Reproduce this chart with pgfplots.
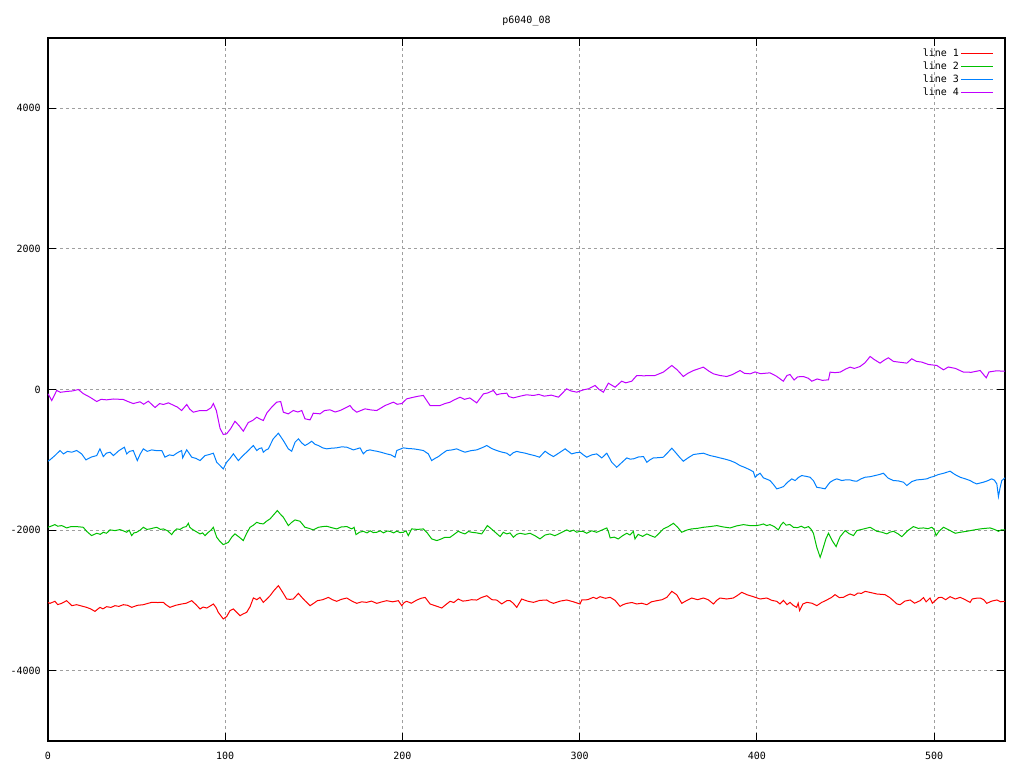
\documentclass[border=0pt]{standalone}
\usepackage{pgfplots}
\pgfplotsset{compat=1.18}
\usepackage{fontspec}
\setmainfont{DejaVu Sans Mono}
\definecolor{gpred}{RGB}{255,0,0}
\definecolor{gpgreen}{RGB}{0,192,0}
\definecolor{gpblue}{RGB}{0,128,255}
\definecolor{gpmag}{RGB}{192,0,255}

\begin{document}
\begin{tikzpicture}
\fontsize{5}{6}\selectfont
\begin{axis}[
    scale only axis,
    width=478.5pt, height=351.5pt,
    xmin=0, xmax=540, ymin=-5000, ymax=5000,
    xtick={0,100,...,500},
    ytick={-4000,-2000,...,4000},
    /pgf/number format/assume math mode=true,
    /pgf/number format/set thousands separator={},
    tick label style={font=\fontsize{5}{6}\selectfont},
    xticklabel style={yshift=-3.6pt},
    yticklabel style={xshift=-1.8pt},
    tick align=inside,
    major tick length=4pt,
    tick style={black, line width=0.5pt},
    axis line style={black, line width=0.55pt},
    grid=major,
    major grid style={gray!75, dash pattern=on 1.5pt off 1.5pt, line width=0.5pt},
    title={p6040\_08},
    title style={at={(0.5,1)}, anchor=base, yshift=1.3pt, font=\fontsize{5}{6}\selectfont},
    legend plot pos=right,
    legend cell align=right,
    legend image code/.code={\draw[#1, line width=0.5pt] (1.5pt,0pt) -- (17.5pt,0pt);},
    legend style={draw=none, fill=none, at={(1,1)}, anchor=north east,
        xshift=-5.5pt, yshift=-4.2pt, inner sep=0pt, row sep=0.2pt,
        font=\fontsize{5}{6}\selectfont,
        nodes={inner sep=0.8pt, text height=4.2pt, text depth=0.5pt}},
    every axis plot/.append style={no marks, line width=0.5pt},
]
% line 1
\addplot[gpred] table {
0 -3030
1.1 -3042
3.9 -3013
5.5 -3060
7.7 -3042
10.5 -3004
12 -3040
13.4 -3075
16.2 -3061
19 -3080
21.8 -3099
24 -3120
26.5 -3156
29.3 -3099
31 -3120
33.1 -3089
35.5 -3100
37.8 -3075
40 -3085
42.5 -3061
45 -3070
47.2 -3099
50.5 -3070
53.8 -3061
56 -3045
58.5 -3028
62 -3030
65.1 -3028
66.5 -3060
68.8 -3099
72 -3070
75.4 -3051
78 -3040
81.1 -3004
83.5 -3060
85.8 -3122
87.5 -3095
89.6 -3108
91.5 -3080
93.3 -3051
94.8 -3100
96.1 -3170
98.9 -3264
100.8 -3230
102.7 -3146
104.6 -3122
106.5 -3170
108.4 -3217
110.3 -3190
112.1 -3170
114 -3090
115.9 -2965
117.8 -2990
119.6 -2957
121.5 -3028
123.5 -2980
125.3 -2933
127.5 -2860
130 -2790
132.3 -2880
134.7 -2980
136.5 -2985
138.4 -2980
141.3 -2900
143 -2950
145 -3004
147.9 -3075
150 -3040
152 -3004
155 -2990
158.2 -2957
160.5 -2990
162.9 -3013
165.5 -2985
168.6 -2966
171.5 -3010
174.2 -3042
177 -3020
179.8 -3028
182.5 -3010
185.5 -3042
188.5 -3020
191.1 -3004
194.5 -3020
197.7 -3004
199.6 -3075
201 -3030
202.4 -3013
205 -3040
208.1 -2995
210.5 -2970
212.8 -2957
215.6 -3051
219 -3080
222.2 -3108
224.5 -3060
226.9 -3013
229 -3030
231.5 -2980
234 -3010
236.3 -3004
239 -2990
241.9 -2995
244.5 -2960
247.6 -2933
250.5 -2990
253.2 -2995
256 -3050
258.9 -3004
260.7 -3004
262.5 -3040
264.5 -3099
267.3 -2980
270.5 -3010
273.9 -3028
277.5 -3000
281.4 -2994
283 -3020
285.2 -3042
289 -3010
292.7 -2994
296.5 -3020
300.2 -3051
301.2 -2994
304.5 -2990
307.7 -2956
309.5 -2975
311.5 -2947
314.5 -2970
317.2 -2956
320 -3000
322.8 -3085
324.5 -3060
326.6 -3042
329.5 -3030
332.2 -3051
335 -3040
337.9 -3061
340.5 -3020
343.5 -3004
346.5 -2990
349.2 -2956
352 -2871
354.8 -2920
357.6 -3042
360.5 -3000
363.2 -2966
366.5 -2990
369.8 -2966
372.5 -2990
375.5 -3051
377.3 -3000
379.2 -2966
383 -2980
386.7 -2966
389 -2930
391.5 -2885
394.5 -2920
398 -2947
401.8 -2980
405.6 -2966
408.5 -3000
411.2 -3013
413 -3050
415 -3000
417 -3060
418.7 -3028
420.5 -3070
422.4 -3099
423.3 -3040
424.1 -3146
426 -3050
428.2 -3028
431 -3040
433.8 -3075
436.5 -3030
439.4 -2994
442 -2960
444.1 -2918
446.5 -2960
448.8 -2956
450.7 -2930
452.6 -2909
455 -2930
457 -2895
459 -2900
461.1 -2871
464.5 -2890
467.7 -2909
472.3 -2918
475 -2960
477 -3004
479 -3050
480.8 -3061
483.5 -3010
486.5 -2994
489 -3040
492.1 -3004
494 -2960
495.5 -3020
497.7 -2966
499 -3040
500.6 -3004
502.5 -2960
504.3 -2956
506.5 -2990
509 -2947
512 -2980
514.7 -2956
517.5 -2990
520.3 -3028
521.5 -2980
523.5 -2970
526 -2966
528 -2990
529.7 -3042
532.5 -3010
535.4 -2994
537.5 -3020
540 -3013
};
\addlegendentry{line 1}
% line 2
\addplot[gpgreen] table {
0 -1960
1.1 -1950
3.9 -1922
5.5 -1945
7.7 -1936
9 -1950
10.5 -1969
13 -1950
16.2 -1950
19.9 -1960
21.8 -2017
24.6 -2078
27.5 -2045
29.5 -2060
31.2 -2031
33 -2045
35 -1997
37.8 -2007
40.6 -1993
42.5 -2010
44.4 -2031
45.8 -2000
47.2 -2078
48.5 -2040
50 -2031
52 -2000
53.8 -1960
55.8 -1990
57.6 -1983
59.5 -1970
61.3 -1960
63.5 -1990
65.1 -1983
67.5 -2010
69.8 -2064
71 -2020
72.6 -1983
74.5 -1990
76.4 -1960
78 -1950
79.2 -1903
80 -1960
81.1 -1983
83.5 -2020
85.8 -2054
87.2 -2040
88.6 -2078
90.5 -2031
92 -2000
93.3 -1960
95.2 -2102
97 -2160
98.9 -2206
100.5 -2190
101.8 -2173
103.7 -2100
105.5 -2054
107.9 -2100
110.2 -2149
112 -2050
114 -1960
115.9 -1930
117.8 -1889
119.5 -1905
121.5 -1912
123.5 -1870
125.3 -1841
127.4 -1780
129.4 -1722
131 -1770
132.8 -1817
134.3 -1880
135.6 -1936
137.5 -1890
139.4 -1855
142.2 -1874
145 -1960
147.3 -1975
149.7 -1997
152.6 -1960
155 -1950
157.3 -1945
160 -1965
162.9 -1983
165.5 -1955
168.6 -1950
171.4 -1983
172.7 -1960
173.8 -2064
175.8 -2030
177.9 -2017
180 -2040
181.8 -2010
183.5 -2035
185.5 -2031
187.5 -2010
189.3 -2040
191.2 -2015
193 -2017
195 -2040
196.8 -2015
198.6 -2035
200.5 -2031
202 -2010
203.3 -2078
205.2 -1983
208.5 -1990
211.8 -1983
214 -2040
216.5 -2125
219.4 -2149
221.5 -2130
224 -2102
226.9 -2102
229.2 -2060
231.5 -2017
233.5 -2040
235.3 -2054
237.2 -2020
239.1 -2031
242 -2040
244.7 -2054
246.5 -1990
247.9 -1936
249.6 -1970
251.3 -2007
253.2 -2050
255.1 -2092
256.9 -2031
258.9 -2054
260.7 -2040
262.6 -2102
264.5 -2060
266.4 -2045
269.2 -2060
272 -2045
274.8 -2080
277.6 -2125
280.5 -2070
283.3 -2054
286 -2080
288.9 -2045
290.8 -2020
292.7 -1997
294.5 -2020
296.5 -2000
298.3 -2030
300.2 -2017
302 -2020
304 -2045
306.8 -2010
309.6 -2031
312.5 -2000
315.3 -1969
316.3 -2030
317.2 -2111
319.5 -2100
321.8 -2126
324.2 -2080
326.6 -2045
328.4 -2070
330.3 -2017
331.2 -2126
333 -2060
335.5 -2090
337.9 -2054
340.2 -2080
342.5 -2102
345 -2040
347.2 -1983
350 -1950
352.9 -1903
355.3 -1960
357.6 -2031
360.4 -2000
363.2 -1983
366.5 -1975
369.8 -1960
373.5 -1950
377.4 -1936
381 -1955
384.9 -1969
388.6 -1940
392.4 -1922
396.2 -1936
399.9 -1936
402 -1925
403.7 -1912
405.5 -1935
407.4 -1922
409.8 -1950
412.1 -1997
413.5 -1930
414.9 -1889
416.5 -1930
418.6 -1920
420.6 -1960
423 -1965
425 -1945
427 -1970
429.1 -1950
430.5 -1985
431.9 -2045
433.8 -2245
435.7 -2387
436.6 -2320
437.5 -2245
439 -2120
440.4 -2045
442.5 -2150
444.7 -2235
446 -2150
447 -2093
449.8 -2007
452 -2050
454.5 -2078
456.4 -2007
460 -1985
463.9 -1960
467.7 -2017
470.5 -2030
473.3 -2054
475 -2030
477 -2017
479.5 -2050
481.8 -2093
485 -2010
488.3 -1950
491 -1975
494 -1969
496.5 -1980
498.7 -1960
500 -1990
501.1 -2078
503 -2010
505.3 -1960
508.5 -2000
511.9 -2045
515 -2030
518.4 -2017
522 -2000
526 -1983
529 -1975
531.6 -1969
534 -1990
536.3 -2017
538 -1995
540 -1997
};
\addlegendentry{line 2}
% line 3
\addplot[gpblue] table {
0 -1020
1.1 -1001
3.9 -940
6.8 -868
8.7 -916
11 -880
13.4 -892
16.2 -868
19 -916
21.4 -1001
24.5 -960
27.5 -940
29.3 -844
31.2 -954
33 -905
35 -892
36.9 -940
40 -870
43.1 -821
44.4 -916
46 -880
48.1 -868
50.4 -1011
52 -920
53.8 -844
56 -880
58.5 -859
61.3 -870
64.2 -868
66 -963
68.5 -930
70.7 -940
73 -900
75.4 -868
76 -973
78.3 -858
81.1 -963
83.5 -980
85.8 -1011
88.6 -940
91 -925
93.3 -906
95.2 -1035
97 -1080
98.9 -1129
100.8 -1035
102.7 -980
104.6 -915
107.4 -1011
110 -940
112.1 -892
114.5 -830
115.9 -797
117.8 -868
119.2 -840
120.6 -830
121.5 -892
123 -860
124.3 -844
127.1 -702
130 -622
132.8 -726
135.6 -844
137.5 -878
139.4 -750
141.3 -702
143.2 -760
145 -797
146.9 -770
148.8 -736
150.7 -780
152.6 -797
155 -830
157.3 -844
160 -835
162.9 -830
165.8 -815
168.6 -821
170.5 -840
172.3 -859
174.2 -845
176.1 -830
177.9 -915
179.8 -870
181.7 -859
183.6 -870
185.5 -878
188.3 -895
191.1 -916
193.5 -930
195.8 -963
196.8 -868
198.6 -850
200.5 -830
203.4 -840
206.2 -844
209 -855
211.8 -868
214.6 -916
216.5 -1011
218.4 -980
220.3 -954
222.6 -910
225 -868
227.8 -860
230.6 -844
233 -870
235.3 -892
238.6 -870
241.9 -859
244.8 -830
247.6 -797
250.4 -840
253.2 -868
256 -890
258.9 -906
260.7 -940
262.5 -900
264.5 -880
266.4 -892
269.2 -905
272 -925
274.6 -940
277.3 -963
280.5 -878
282.8 -920
285.2 -954
288.5 -900
291.8 -844
293.6 -880
295.5 -916
297.8 -900
300.2 -892
302.1 -930
304 -963
306.8 -930
309.6 -916
312.5 -973
315.3 -906
318.1 -1035
320.9 -1106
323.7 -1040
326.6 -973
328.4 -990
330.3 -987
333.2 -960
336 -954
337.9 -1035
339.7 -1000
341.6 -973
344.4 -970
347.2 -963
349.6 -900
352 -835
354.8 -916
356.6 -970
358.5 -1020
361.3 -970
364.2 -925
367 -915
369.8 -906
373.6 -940
376.4 -955
379.2 -973
382 -990
384.9 -1011
387.7 -1040
390.5 -1082
393.3 -1110
396.2 -1144
398 -1170
399 -1248
399.9 -1224
401.8 -1191
403.7 -1257
405.5 -1275
407.4 -1295
409.3 -1350
411.2 -1413
413 -1400
415 -1381
417.3 -1320
419.7 -1271
421.6 -1295
423.5 -1250
425.3 -1224
427.7 -1235
430 -1248
432 -1300
433.8 -1391
436 -1400
438.5 -1413
440 -1360
441.3 -1319
443.2 -1290
445.1 -1271
447.9 -1295
450.2 -1285
452.6 -1286
454.5 -1300
456.4 -1305
458.8 -1270
461.1 -1248
464 -1240
466.7 -1224
469 -1210
471.4 -1191
474 -1260
477 -1295
479.8 -1300
482.7 -1319
484.6 -1366
487.4 -1310
490.2 -1286
493 -1280
495.9 -1271
497.8 -1250
499.6 -1238
502.4 -1210
505.6 -1190
509 -1162
511.8 -1210
514.7 -1248
517.5 -1270
520.3 -1295
522 -1320
524 -1343
526 -1330
527.8 -1319
530 -1300
532.5 -1271
534 -1290
535.4 -1343
536.3 -1523
537.2 -1400
538.2 -1295
540 -1257
};
\addlegendentry{line 3}
% line 4
\addplot[gpmag] table {
0 -60
1.1 -110
2.1 -157
4.9 -14
7 -40
10.5 -28
14 -20
17.1 0
20 -60
23.7 -110
27.5 -171
30 -140
33.1 -147
37 -135
42.5 -142
45 -170
48.1 -200
51.9 -175
54 -210
56.6 -166
60.4 -256
63 -200
65.1 -213
68 -190
70.7 -223
73 -250
75.4 -299
78.3 -213
80 -280
82 -323
85.8 -299
89.6 -299
92 -260
93.3 -200
95 -300
97.1 -555
98.9 -640
100.8 -630
103 -560
105.5 -451
108 -520
110.2 -593
113 -470
115.5 -440
117.8 -394
119.6 -420
121.5 -441
123.4 -337
126.2 -252
129.1 -180
131.3 -171
132.8 -323
135.6 -346
138.4 -299
141 -320
143.2 -299
145 -417
147.9 -432
149.7 -337
153.5 -346
156 -300
159.1 -289
162 -320
164.8 -299
168 -260
170.4 -228
172 -280
174.2 -323
178.9 -275
182 -290
185.5 -299
190.2 -228
194.9 -180
197 -210
199.6 -200
202.4 -133
206.2 -110
209 -95
211.8 -85
215.6 -228
221.2 -228
224 -200
226.9 -180
229 -150
232.5 -110
235 -140
238 -120
241.9 -190
245.7 -62
248 -50
251.3 -14
253.2 -76
255.1 -62
258.9 -52
260 -100
262.6 -119
266.4 -95
270 -75
273.9 -85
277 -70
280 -95
284 -80
288 -109
292.7 10
295 -20
298.4 -38
302.1 -5
305 10
308.7 57
311 0
313.4 -38
316.2 90
320 33
323.7 118
326 95
329.4 118
332.2 199
336 195
342.5 199
347.2 247
352 342
355 280
358.5 185
361 230
364.2 270
369.8 318
373 260
375.5 223
379 200
383 185
386 210
390.5 270
393 230
396.2 223
399 250
402 225
407.4 237
411 190
414.9 118
417 200
418.7 213
421 135
423 180
426.2 185
429 160
431 118
434 150
437 130
440.4 138
441.3 247
444 240
447 247
450 290
452.6 318
455 300
458.2 327
461 380
463.9 470
466 430
469.5 375
472 420
474.2 451
477 400
480 390
484.6 375
487.4 437
490 400
493 390
496.8 356
501.5 342
505.3 280
508 320
512 300
516.6 247
521 245
526 270
529.4 166
531 250
535 265
540 261
};
\addlegendentry{line 4}
\end{axis}
\pgfresetboundingbox
\useasboundingbox (-24pt,-13.5pt) rectangle (488pt,370.5pt);
\end{tikzpicture}
\end{document}
